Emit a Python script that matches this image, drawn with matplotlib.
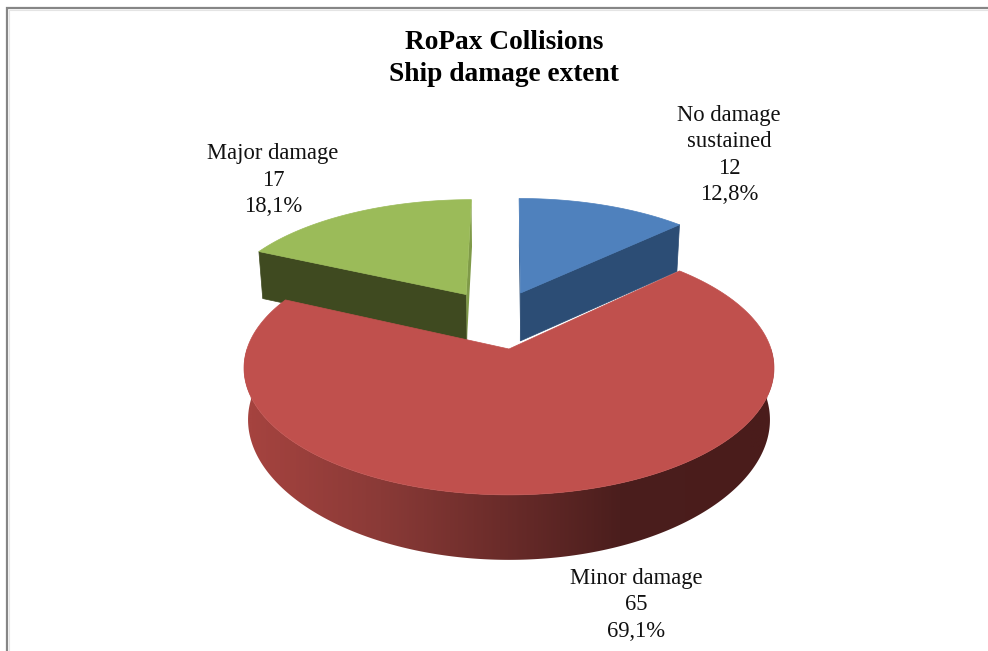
import numpy as np
import matplotlib
matplotlib.use("Agg")
import matplotlib.pyplot as plt
from matplotlib.patches import Polygon
from matplotlib.colors import LinearSegmentedColormap

# ---- data ----
categories = ["No damage\nsustained", "Minor damage", "Major damage"]
values = [12, 65, 17]
percent_labels = ["12,8%", "69,1%", "18,1%"]
title_text = "RoPax Collisions\nShip damage extent"

# ---- style / layout ----
top_colors = ["#4F81BD", "#C0504D", "#9BBB59"]
side_colors = ["#2C4D75", "#C0504D", "#3F4A20"]
explode = [(0.047, 0.484), (0.0, 0.0), (-0.175, 0.47)]
label_xy = [(729, 155), (636, 605), (273, 180)]
CX = 509.0
TOP = dict(a=262.0, kx=0.15, b=124.0, ky=0.15, y0=349.0)
BOT = dict(a=258.0, kx=0.15, b=131.5, ky=0.18, y0=399.5)

plt.rcParams["font.family"] = ["Liberation Serif", "DejaVu Serif"]
fig = plt.figure(figsize=(9.88, 6.51), dpi=100, facecolor="white")
ax = fig.add_axes([0, 0, 1, 1])


def proj(u, v, layer):
    u, v = np.asarray(u, float), np.asarray(v, float)
    return CX + layer["a"] * u / (1 + layer["kx"] * v), layer["y0"] - layer["b"] * v / (1 + layer["ky"] * v)


def pts(u, v, layer):
    x, y = proj(u, v, layer)
    return np.column_stack([x, y])


# chart frame (only left and top edges fall inside the picture)
ax.plot([7, 7, 988], [651, 8, 8], color="#868686", lw=1.6, solid_joinstyle="miter", zorder=1)
ax.plot([9, 9, 988], [651, 10, 10], color="#E4E4E4", lw=0.8, zorder=1)

# slice angles, clockwise from 12 o'clock
fractions = np.array(values, float) / sum(values)
edges = np.concatenate([[0], np.cumsum(fractions)]) * 2 * np.pi
slices = []
for i in range(len(values)):
    t = np.linspace(edges[i], edges[i + 1], 240)
    ou, ov = explode[i]
    slices.append((t, ou, ov))

# drawing order: blue, green, red on top
for i in (0, 2):
    t, ou, ov = slices[i]
    # cut face that looks towards the viewer
    end = t[-1] if i == 0 else t[0]
    us = np.array([ou, ou + np.sin(end)])
    vs = np.array([ov, ov + np.cos(end)])
    face = np.vstack([pts(us, vs, TOP), pts(us[::-1], vs[::-1], BOT)])
    ax.add_patch(Polygon(face, closed=True, fc=side_colors[i], ec=side_colors[i], lw=0.5, zorder=2))
    # thin sliver of the other cut face
    other = t[0] if i == 0 else t[-1]
    us2 = np.array([ou, ou + np.sin(other)])
    vs2 = np.array([ov, ov + np.cos(other)])
    sl = np.vstack([pts(us2, vs2, TOP), pts(us2[::-1], vs2[::-1], BOT)])
    ax.add_patch(Polygon(sl, closed=True, fc=side_colors[i] if i == 0 else "#7F9A48",
                         ec="none", zorder=2))
    # top
    u = np.concatenate([[ou], ou + np.sin(t)])
    v = np.concatenate([[ov], ov + np.cos(t)])
    ax.add_patch(Polygon(pts(u, v, TOP), closed=True, fc=top_colors[i], ec=top_colors[i], lw=0.5, zorder=3))

# big slice: rim with a left-to-right gradient
t, ou, ov = slices[1]
rim_cmap = LinearSegmentedColormap.from_list(
    "rim", [(0, "#A5433F"), (0.26, "#8A3A37"), (0.5, "#6B2C2A"), (0.74, "#4B1E1D"), (1, "#4A1C1B")])
tf = np.linspace(np.pi * 0.5, np.pi * 1.5, 360)
rim = np.vstack([pts(np.sin(tf), np.cos(tf), TOP), pts(np.sin(tf[::-1]), np.cos(tf[::-1]), BOT)])
rim_patch = Polygon(rim, closed=True, fc="none", ec="none", transform=ax.transData)
ax.add_patch(rim_patch)
grad_x = np.linspace(240, 790, 512)
img = ax.imshow(np.clip((grad_x - 250) / 500, 0, 1)[None, :], cmap=rim_cmap, vmin=0, vmax=1, aspect="auto",
                extent=(240, 790, 600, 340), zorder=4, interpolation="bilinear")
img.set_clip_path(rim_patch)
u = np.concatenate([[ou], ou + np.sin(t)])
v = np.concatenate([[ov], ov + np.cos(t)])
ax.add_patch(Polygon(pts(u, v, TOP), closed=True, fc=top_colors[1], ec=top_colors[1], lw=0.5, zorder=5))

ax.set_xlim(0, 988)
ax.set_ylim(651, 0)
ax.axis("off")

# texts
ax.text(504, 58.5, title_text, ha="center", va="center", fontsize=19.7, fontweight="bold",
        color="black", linespacing=1.35, zorder=6)
for name, val, pct, (lx, ly) in zip(categories, values, percent_labels, label_xy):
    ax.text(lx, ly, f"{name}\n{val}\n{pct}", ha="center", va="center", fontsize=16.3,
            color="#111111", linespacing=1.33, zorder=6)

fig.savefig("out.png", dpi=100, facecolor="white")
